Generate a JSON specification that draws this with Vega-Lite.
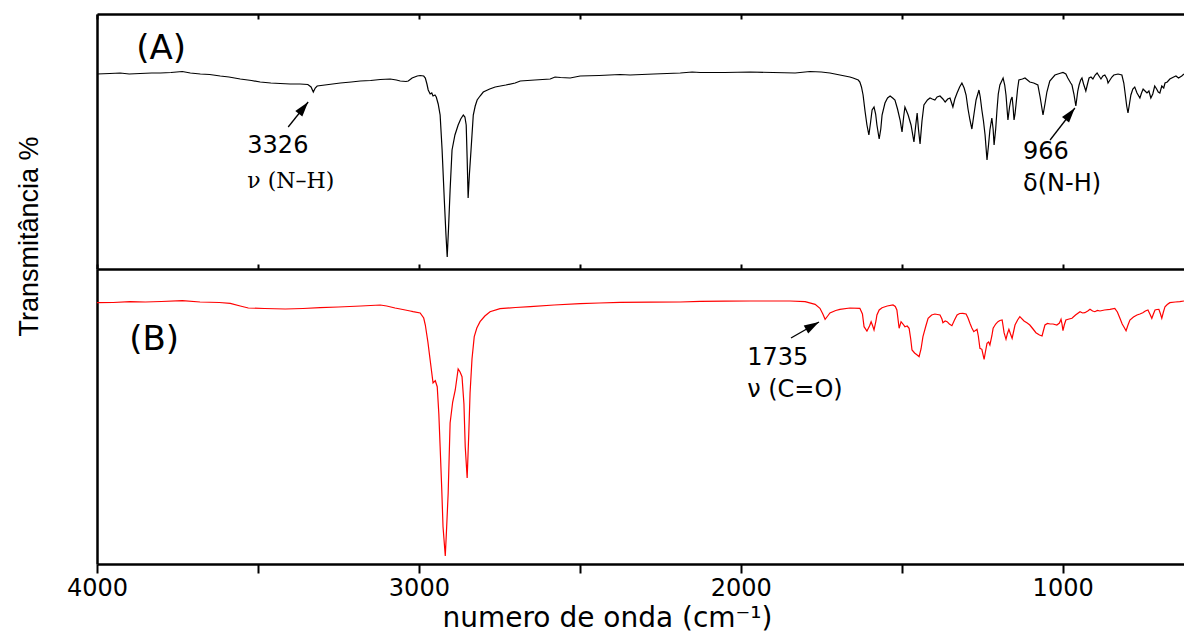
{
  "$schema": "https://vega.github.io/schema/vega-lite/v6.json",
  "background": "white",
  "padding": {"left": 15, "top": 13, "right": 0, "bottom": 0},
  "spacing": 0,
  "bounds": "flush",
  "config": {
    "view": {"stroke": null},
    "axis": {"grid": false, "domainColor": "black", "tickColor": "black", "labelColor": "black", "titleColor": "black", "domainWidth": 2.5, "tickWidth": 2, "labelFont": "DejaVu Sans", "titleFont": "DejaVu Sans", "titleFontWeight": "normal"}
  },
  "datasets": {
    "specA": [
      {"wn":4000,"t":195},{"wn":3960,"t":195.5},{"wn":3928,"t":196},{"wn":3900,"t":195},{"wn":3866,"t":195.5},{"wn":3830,"t":196},{"wn":3803,"t":196},{"wn":3770,"t":196.5},{"wn":3735,"t":197.5},{"wn":3710,"t":196},{"wn":3679,"t":195},{"wn":3650,"t":194.5},{"wn":3617,"t":193},{"wn":3590,"t":192},{"wn":3555,"t":190},{"wn":3520,"t":188.5},{"wn":3493,"t":187},{"wn":3460,"t":186},{"wn":3431,"t":185.5},{"wn":3400,"t":185},{"wn":3369,"t":185},{"wn":3345,"t":184.5},{"wn":3335,"t":182},{"wn":3328,"t":177},{"wn":3322,"t":181},{"wn":3316,"t":183},{"wn":3280,"t":184.5},{"wn":3244,"t":186},{"wn":3210,"t":187},{"wn":3182,"t":188},{"wn":3150,"t":188.5},{"wn":3120,"t":189.5},{"wn":3089,"t":190},{"wn":3070,"t":189},{"wn":3058,"t":188},{"wn":3040,"t":187.5},{"wn":3033,"t":188},{"wn":3021,"t":191},{"wn":3005,"t":193},{"wn":2996,"t":193.5},{"wn":2985,"t":193},{"wn":2980,"t":191},{"wn":2975,"t":185},{"wn":2971,"t":179},{"wn":2965,"t":175},{"wn":2960,"t":176},{"wn":2956,"t":173},{"wn":2950,"t":174},{"wn":2946,"t":172},{"wn":2940,"t":165},{"wn":2934,"t":154},{"wn":2928,"t":120},{"wn":2921,"t":69},{"wn":2916,"t":35},{"wn":2912,"t":12},{"wn":2908,"t":40},{"wn":2903,"t":79},{"wn":2897,"t":119},{"wn":2888,"t":134},{"wn":2878,"t":144},{"wn":2870,"t":150},{"wn":2862,"t":154},{"wn":2857,"t":152},{"wn":2853,"t":144},{"wn":2850,"t":110},{"wn":2847,"t":71},{"wn":2843,"t":95},{"wn":2838,"t":119},{"wn":2831,"t":154},{"wn":2825,"t":163},{"wn":2819,"t":169},{"wn":2810,"t":173},{"wn":2800,"t":177},{"wn":2780,"t":180},{"wn":2763,"t":182},{"wn":2730,"t":184},{"wn":2701,"t":186},{"wn":2685,"t":188},{"wn":2640,"t":189},{"wn":2592,"t":190},{"wn":2577,"t":192},{"wn":2560,"t":191.5},{"wn":2530,"t":191},{"wn":2499,"t":193},{"wn":2440,"t":193.5},{"wn":2375,"t":194.5},{"wn":2344,"t":194},{"wn":2270,"t":195},{"wn":2188,"t":196},{"wn":2151,"t":197},{"wn":2126,"t":196.5},{"wn":2050,"t":196.5},{"wn":1971,"t":197},{"wn":1900,"t":196.5},{"wn":1831,"t":196},{"wn":1785,"t":197.5},{"wn":1750,"t":197},{"wn":1723,"t":196},{"wn":1692,"t":194},{"wn":1661,"t":192},{"wn":1651,"t":191},{"wn":1635,"t":189},{"wn":1630,"t":187},{"wn":1625,"t":182},{"wn":1620,"t":174},{"wn":1614,"t":158},{"wn":1608,"t":144},{"wn":1602,"t":134},{"wn":1597,"t":146},{"wn":1592,"t":159},{"wn":1586,"t":162},{"wn":1581,"t":155},{"wn":1577,"t":144},{"wn":1570,"t":130},{"wn":1565,"t":140},{"wn":1561,"t":154},{"wn":1552,"t":166},{"wn":1544,"t":171},{"wn":1536,"t":173},{"wn":1528,"t":171},{"wn":1521,"t":169},{"wn":1513,"t":160},{"wn":1505,"t":149},{"wn":1499,"t":137},{"wn":1494,"t":152},{"wn":1490,"t":162},{"wn":1485,"t":158},{"wn":1480,"t":154},{"wn":1471,"t":144},{"wn":1462,"t":127},{"wn":1457,"t":142},{"wn":1452,"t":156},{"wn":1448,"t":140},{"wn":1443,"t":125},{"wn":1437,"t":148},{"wn":1431,"t":164},{"wn":1420,"t":169},{"wn":1412,"t":171},{"wn":1405,"t":170},{"wn":1397,"t":169},{"wn":1390,"t":172},{"wn":1381,"t":173},{"wn":1372,"t":170},{"wn":1365,"t":167},{"wn":1357,"t":170},{"wn":1350,"t":171},{"wn":1345,"t":166},{"wn":1341,"t":162},{"wn":1335,"t":170},{"wn":1328,"t":176},{"wn":1320,"t":182},{"wn":1313,"t":186},{"wn":1306,"t":181},{"wn":1300,"t":174},{"wn":1294,"t":160},{"wn":1288,"t":149},{"wn":1282,"t":140},{"wn":1275,"t":156},{"wn":1269,"t":169},{"wn":1260,"t":179},{"wn":1256,"t":172},{"wn":1251,"t":159},{"wn":1246,"t":148},{"wn":1241,"t":134},{"wn":1235,"t":109},{"wn":1230,"t":125},{"wn":1226,"t":139},{"wn":1220,"t":151},{"wn":1216,"t":140},{"wn":1213,"t":124},{"wn":1208,"t":140},{"wn":1204,"t":159},{"wn":1200,"t":175},{"wn":1195,"t":184},{"wn":1185,"t":191},{"wn":1180,"t":184},{"wn":1176,"t":174},{"wn":1170,"t":149},{"wn":1165,"t":162},{"wn":1161,"t":169},{"wn":1157,"t":172},{"wn":1154,"t":162},{"wn":1151,"t":149},{"wn":1148,"t":155},{"wn":1145,"t":164},{"wn":1140,"t":180},{"wn":1136,"t":189},{"wn":1125,"t":190},{"wn":1117,"t":191},{"wn":1102,"t":187},{"wn":1090,"t":186},{"wn":1077,"t":184},{"wn":1070,"t":172},{"wn":1061,"t":154},{"wn":1055,"t":165},{"wn":1049,"t":177},{"wn":1040,"t":188},{"wn":1024,"t":194},{"wn":1010,"t":195.5},{"wn":999,"t":196.5},{"wn":990,"t":195},{"wn":984,"t":191},{"wn":975,"t":186},{"wn":971,"t":184},{"wn":965,"t":175},{"wn":959,"t":163},{"wn":953,"t":178},{"wn":949,"t":184},{"wn":944,"t":189},{"wn":940,"t":191},{"wn":935,"t":185},{"wn":928,"t":178},{"wn":922,"t":186},{"wn":918,"t":191},{"wn":912,"t":192},{"wn":906,"t":190},{"wn":899,"t":194},{"wn":893,"t":196},{"wn":887,"t":193},{"wn":881,"t":190},{"wn":875,"t":193},{"wn":869,"t":194},{"wn":862,"t":190},{"wn":859,"t":186},{"wn":853,"t":189},{"wn":847,"t":192},{"wn":841,"t":194},{"wn":828,"t":195},{"wn":816,"t":194},{"wn":810,"t":186},{"wn":806,"t":176},{"wn":801,"t":163},{"wn":797,"t":156},{"wn":792,"t":166},{"wn":788,"t":174},{"wn":782,"t":180},{"wn":776,"t":182},{"wn":769,"t":176},{"wn":760,"t":171},{"wn":755,"t":176},{"wn":750,"t":180},{"wn":744,"t":178},{"wn":738,"t":176},{"wn":732,"t":178},{"wn":726,"t":171},{"wn":720,"t":175},{"wn":714,"t":183},{"wn":708,"t":180},{"wn":703,"t":177},{"wn":698,"t":176},{"wn":692,"t":183},{"wn":686,"t":181},{"wn":682,"t":186},{"wn":675,"t":187},{"wn":667,"t":190},{"wn":655,"t":192},{"wn":648,"t":193},{"wn":640,"t":191},{"wn":630,"t":193},{"wn":623,"t":195}
    ],
    "specB": [
      {"wn":4000,"t":261.3},{"wn":3950,"t":261.5},{"wn":3897,"t":262.3},{"wn":3850,"t":262},{"wn":3800,"t":262.5},{"wn":3735,"t":263.3},{"wn":3680,"t":262},{"wn":3620,"t":261.5},{"wn":3586,"t":260.7},{"wn":3555,"t":258},{"wn":3530,"t":256},{"wn":3480,"t":255.5},{"wn":3415,"t":255},{"wn":3360,"t":255.5},{"wn":3307,"t":256.3},{"wn":3250,"t":257},{"wn":3180,"t":258},{"wn":3120,"t":259},{"wn":3100,"t":258},{"wn":3074,"t":256},{"wn":3050,"t":254.5},{"wn":3027,"t":253},{"wn":3018,"t":252.3},{"wn":2996,"t":251},{"wn":2985,"t":246},{"wn":2980,"t":239},{"wn":2972,"t":222},{"wn":2965,"t":204},{"wn":2956,"t":181},{"wn":2949,"t":183.3},{"wn":2943,"t":177.3},{"wn":2938,"t":150},{"wn":2934,"t":117.3},{"wn":2929,"t":75},{"wn":2925,"t":37.3},{"wn":2918,"t":8},{"wn":2914,"t":35},{"wn":2909,"t":71},{"wn":2903,"t":141},{"wn":2895,"t":162},{"wn":2887,"t":174},{"wn":2878,"t":195},{"wn":2872,"t":192},{"wn":2866,"t":187.3},{"wn":2860,"t":160},{"wn":2856,"t":117.3},{"wn":2850,"t":86},{"wn":2845,"t":130},{"wn":2841,"t":171},{"wn":2835,"t":205},{"wn":2828,"t":227.3},{"wn":2820,"t":236},{"wn":2810,"t":242.3},{"wn":2795,"t":248},{"wn":2779,"t":252.3},{"wn":2748,"t":255.3},{"wn":2700,"t":256.5},{"wn":2654,"t":257.3},{"wn":2580,"t":259},{"wn":2499,"t":260.3},{"wn":2440,"t":261},{"wn":2375,"t":261.7},{"wn":2280,"t":261.8},{"wn":2188,"t":262},{"wn":2126,"t":262.7},{"wn":2050,"t":262.8},{"wn":1971,"t":263},{"wn":1900,"t":263},{"wn":1847,"t":263},{"wn":1800,"t":262.3},{"wn":1769,"t":259.7},{"wn":1754,"t":255.7},{"wn":1745,"t":250},{"wn":1738,"t":244.7},{"wn":1730,"t":248},{"wn":1723,"t":251},{"wn":1705,"t":253.5},{"wn":1692,"t":254.7},{"wn":1661,"t":256},{"wn":1630,"t":255.7},{"wn":1622,"t":250},{"wn":1617,"t":237.3},{"wn":1608,"t":233},{"wn":1600,"t":238},{"wn":1595,"t":242.3},{"wn":1590,"t":238},{"wn":1586,"t":234},{"wn":1580,"t":243},{"wn":1577,"t":249},{"wn":1570,"t":254},{"wn":1561,"t":256.3},{"wn":1545,"t":258},{"wn":1527,"t":259},{"wn":1520,"t":257.5},{"wn":1515,"t":254},{"wn":1508,"t":235.7},{"wn":1502,"t":242.3},{"wn":1496,"t":240},{"wn":1490,"t":237.3},{"wn":1483,"t":238},{"wn":1477,"t":235.7},{"wn":1472,"t":225},{"wn":1468,"t":214},{"wn":1460,"t":211},{"wn":1452,"t":209},{"wn":1446,"t":207.3},{"wn":1440,"t":215},{"wn":1434,"t":227.3},{"wn":1425,"t":238},{"wn":1418,"t":245.7},{"wn":1407,"t":249},{"wn":1397,"t":250},{"wn":1381,"t":249},{"wn":1375,"t":245},{"wn":1372,"t":241.3},{"wn":1365,"t":243},{"wn":1359,"t":242.3},{"wn":1352,"t":240},{"wn":1344,"t":238.3},{"wn":1336,"t":244},{"wn":1328,"t":249},{"wn":1320,"t":250.5},{"wn":1310,"t":250.7},{"wn":1300,"t":250},{"wn":1294,"t":246},{"wn":1288,"t":240.7},{"wn":1282,"t":236},{"wn":1276,"t":232.3},{"wn":1266,"t":234.7},{"wn":1262,"t":228},{"wn":1257,"t":215.7},{"wn":1251,"t":214.7},{"wn":1244,"t":204.7},{"wn":1240,"t":212},{"wn":1235,"t":220.7},{"wn":1230,"t":222},{"wn":1226,"t":219},{"wn":1220,"t":228},{"wn":1216,"t":235.7},{"wn":1208,"t":240},{"wn":1201,"t":242.3},{"wn":1195,"t":243.5},{"wn":1188,"t":244},{"wn":1185,"t":238},{"wn":1182,"t":231.3},{"wn":1176,"t":224.7},{"wn":1172,"t":230},{"wn":1167,"t":234.7},{"wn":1162,"t":230},{"wn":1157,"t":225.7},{"wn":1152,"t":233},{"wn":1148,"t":239},{"wn":1140,"t":244},{"wn":1133,"t":247.3},{"wn":1120,"t":243},{"wn":1110,"t":241},{"wn":1102,"t":239},{"wn":1092,"t":235},{"wn":1083,"t":231.3},{"wn":1072,"t":229},{"wn":1064,"t":228},{"wn":1060,"t":233},{"wn":1055,"t":239},{"wn":1047,"t":240.5},{"wn":1039,"t":240},{"wn":1030,"t":240},{"wn":1018,"t":239},{"wn":1010,"t":241},{"wn":1005,"t":244.7},{"wn":1002,"t":240},{"wn":999,"t":233.3},{"wn":995,"t":239},{"wn":990,"t":244},{"wn":980,"t":245},{"wn":971,"t":245.7},{"wn":960,"t":249},{"wn":946,"t":252.3},{"wn":938,"t":251},{"wn":931,"t":251.3},{"wn":922,"t":253},{"wn":915,"t":254.7},{"wn":907,"t":253},{"wn":900,"t":252.3},{"wn":892,"t":253.5},{"wn":884,"t":253},{"wn":870,"t":254},{"wn":853,"t":254.7},{"wn":838,"t":255.7},{"wn":830,"t":252},{"wn":822,"t":245.7},{"wn":815,"t":240},{"wn":810,"t":237.3},{"wn":803,"t":233.3},{"wn":797,"t":239},{"wn":791,"t":244},{"wn":780,"t":247},{"wn":769,"t":249},{"wn":760,"t":250},{"wn":751,"t":251.3},{"wn":743,"t":253},{"wn":735,"t":254},{"wn":729,"t":250},{"wn":723,"t":245.7},{"wn":718,"t":250},{"wn":713,"t":254},{"wn":707,"t":254.5},{"wn":701,"t":254.7},{"wn":696,"t":250},{"wn":692,"t":245.7},{"wn":687,"t":252},{"wn":682,"t":257.3},{"wn":675,"t":259.5},{"wn":667,"t":261.3},{"wn":650,"t":262},{"wn":636,"t":262.3},{"wn":623,"t":263}
    ],
    "titleA": [{"wn":3878,"t":220.5,"label":"(A)"}],
    "notesA": [{"wn":3533,"t":123,"label":"3326"},{"wn":1123,"t":117,"label":"966"},{"wn":1123,"t":85.5,"label":"δ(N-H)"}],
    "serifA": [{"wn":3533,"t":88,"label":"ν (N–H)"}],
    "arrowsA": [{"wn":3406,"t":142,"wn2":3344,"t2":167},{"wn":1039,"t":129,"wn2":962,"t2":161}],
    "titleB": [{"wn":3900,"t":224,"label":"(B)"}],
    "notesB": [{"wn":1980,"t":206.5,"label":"1735"},{"wn":1980,"t":174.5,"label":"ν (C=O)"}],
    "arrowsB": [{"wn":1844,"t":226,"wn2":1757,"t2":242}]
  },
  "vconcat": [
    {
      "width": 1087,
      "height": 255,
      "resolve": {"axis": {"x": "independent"}},
      "layer": [
        {
          "data": {"name": "specA"},
          "mark": {"type": "line", "color": "black", "strokeWidth": 1.2},
          "encoding": {
            "x": {"field": "wn", "type": "quantitative", "scale": {"domain": [4000, 623], "nice": false, "zero": false},
                  "axis": {"orient": "bottom", "values": [4000,3500,3000,2500,2000,1500,1000], "labels": false, "tickSize": -5, "title": null}},
            "y": {"field": "t", "type": "quantitative", "scale": {"domain": [0, 255], "nice": false, "zero": false},
                  "axis": {"labels": false, "ticks": false, "title": "Transmitância %", "titleFont": "Liberation Sans", "titleFontSize": 27, "titleAngle": -90, "titleX": -60, "titleY": 222, "titleAlign": "center", "titleBaseline": "alphabetic"}}
          }
        },
        {
          "data": {"name": "titleA"},
          "mark": {"type": "text", "align": "left", "baseline": "middle", "font": "DejaVu Sans", "fontSize": 34, "color": "black"},
          "encoding": {
            "x": {"field": "wn", "type": "quantitative", "axis": {"orient": "top", "values": [4000,3500,3000,2500,2000,1500,1000], "labels": false, "tickSize": -5, "title": null}},
            "y": {"field": "t", "type": "quantitative"},
            "text": {"field": "label"}
          }
        },
        {
          "data": {"name": "notesA"},
          "mark": {"type": "text", "align": "left", "baseline": "middle", "font": "DejaVu Sans", "fontSize": 24, "color": "black"},
          "encoding": {
            "x": {"field": "wn", "type": "quantitative", "axis": null},
            "y": {"field": "t", "type": "quantitative"},
            "text": {"field": "label"}
          }
        },
        {
          "data": {"name": "serifA"},
          "mark": {"type": "text", "align": "left", "baseline": "middle", "font": "DejaVu Serif", "fontSize": 22, "color": "black"},
          "encoding": {
            "x": {"field": "wn", "type": "quantitative", "axis": null},
            "y": {"field": "t", "type": "quantitative"},
            "text": {"field": "label"}
          }
        },
        {
          "data": {"name": "arrowsA"},
          "mark": {"type": "rule", "color": "black", "strokeWidth": 1.3},
          "encoding": {
            "x": {"field": "wn", "type": "quantitative", "axis": null},
            "y": {"field": "t", "type": "quantitative"},
            "x2": {"field": "wn2"},
            "y2": {"field": "t2"}
          }
        },
        {
          "data": {"name": "arrowsA"},
          "mark": {"type": "point", "shape": "M0,0L-0.6,2L0.6,2Z", "filled": true, "color": "black", "opacity": 1, "size": 225, "angle": 38.5},
          "encoding": {
            "x": {"field": "wn2", "type": "quantitative", "axis": null},
            "y": {"field": "t2", "type": "quantitative"}
          }
        }
      ]
    },
    {
      "width": 1087,
      "height": 295,
      "layer": [
        {
          "data": {"name": "specB"},
          "mark": {"type": "line", "color": "#ff0000", "strokeWidth": 1.2},
          "encoding": {
            "x": {"field": "wn", "type": "quantitative", "scale": {"domain": [4000, 623], "nice": false, "zero": false},
                  "axis": {"orient": "bottom", "values": [4000,3500,3000,2500,2000,1500,1000], "format": "d", "labelExpr": "datum.value % 1000 === 0 ? datum.label : ''", "labelFlush": false, "labelFontSize": 24, "labelPadding": 3, "tickSize": 9, "title": "numero de onda (cm⁻¹)", "titleFontSize": 28, "titleX": 510, "titleY": 62, "titleBaseline": "alphabetic", "titleAlign": "center"}},
            "y": {"field": "t", "type": "quantitative", "scale": {"domain": [0, 295], "nice": false, "zero": false},
                  "axis": {"labels": false, "ticks": false, "title": null}}
          }
        },
        {
          "data": {"name": "titleB"},
          "mark": {"type": "text", "align": "left", "baseline": "middle", "font": "DejaVu Sans", "fontSize": 34, "color": "black"},
          "encoding": {
            "x": {"field": "wn", "type": "quantitative"},
            "y": {"field": "t", "type": "quantitative"},
            "text": {"field": "label"}
          }
        },
        {
          "data": {"name": "notesB"},
          "mark": {"type": "text", "align": "left", "baseline": "middle", "font": "DejaVu Sans", "fontSize": 24, "color": "black"},
          "encoding": {
            "x": {"field": "wn", "type": "quantitative"},
            "y": {"field": "t", "type": "quantitative"},
            "text": {"field": "label"}
          }
        },
        {
          "data": {"name": "arrowsB"},
          "mark": {"type": "rule", "color": "black", "strokeWidth": 1.3},
          "encoding": {
            "x": {"field": "wn", "type": "quantitative"},
            "y": {"field": "t", "type": "quantitative"},
            "x2": {"field": "wn2"},
            "y2": {"field": "t2"}
          }
        },
        {
          "data": {"name": "arrowsB"},
          "mark": {"type": "point", "shape": "M0,0L-0.6,2L0.6,2Z", "filled": true, "color": "black", "opacity": 1, "size": 225, "angle": 60},
          "encoding": {
            "x": {"field": "wn2", "type": "quantitative"},
            "y": {"field": "t2", "type": "quantitative"}
          }
        }
      ]
    }
  ]
}
